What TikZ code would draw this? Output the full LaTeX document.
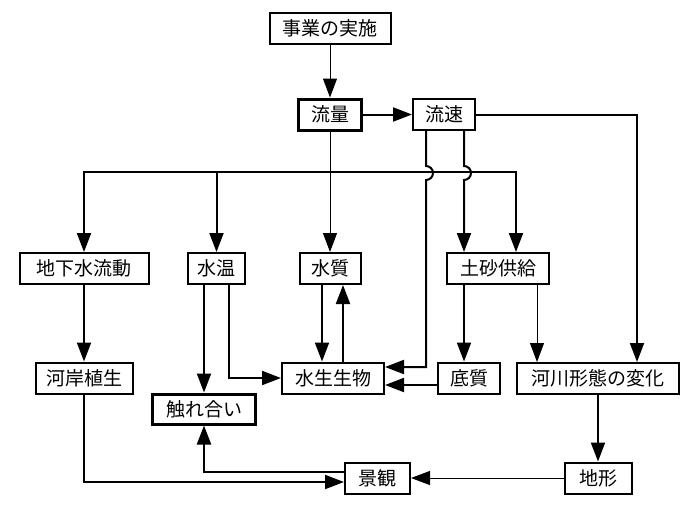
\documentclass[tikz,border=0pt]{standalone}
\usepackage{fontspec}
\setmainfont{Noto Sans CJK JP}
\usetikzlibrary{arrows.meta}

\begin{document}
\begin{tikzpicture}[
    x=1pt, y=-1pt,
    box/.style={draw, line width=2pt, minimum height=31pt, inner sep=2pt, font=\fontsize{19}{19}\selectfont},
    boldbox/.style={box, line width=3pt},
    arrow/.style={-{Triangle[length=19pt,width=14pt]}, line width=2pt},
    thinarrow/.style={arrow, line width=1pt}
]
\useasboundingbox (0,0) rectangle (696,514);

% Top
\node[box, minimum width=121pt] (jigyo) at (330,28.5) {事業の実施};
\node[boldbox, minimum width=63pt] (ryuryo) at (330,114.5) {流量};
\node[box, minimum width=62pt] (ryusoku) at (444,114.5) {流速};

% Row 1
\node[box, minimum width=129pt] (chikasui) at (84,268.5) {地下水流動};
\node[box, minimum width=57pt] (suion) at (216.5,268.5) {水温};
\node[box, minimum width=61pt] (suishitsu) at (330,268.5) {水質};
\node[box, minimum width=102pt] (dosha) at (498,268.5) {土砂供給};

% Row 2
\node[box, minimum width=97pt] (kagan) at (84,378) {河岸植生};
\node[box, minimum width=102pt] (seibutsu) at (333,378) {水生生物};
\node[box, minimum width=62pt] (teishitsu) at (469,378) {底質};
\node[box, minimum width=162pt] (kasen) at (598,378.5) {河川形態の変化};
\node[boldbox, minimum width=103pt, minimum height=30pt] (fureai) at (204,409) {触れ合い};

% Bottom
\node[box, minimum width=65pt] (keikan) at (377.5,478) {景観};
\node[box, minimum width=67pt] (chikei) at (598,478) {地形};

% Bus under 流量
\coordinate (bus) at (330,172);

% Edges
\draw[thinarrow] (jigyo) -- (ryuryo);
\draw[arrow] (ryuryo) -- (ryusoku);
\draw[thinarrow] (ryuryo) -- (suishitsu);
\draw[arrow] (bus) -| (chikasui);
\draw[arrow] (bus) -| (suion);
\draw[arrow] (bus) -| ([xshift=18pt]dosha.north);

% 流速 legs, hopping over the bus
\draw[arrow] ([xshift=-18pt]ryusoku.south) -- ++(0,35) arc[start angle=-90, end angle=90, radius=7] |- ([yshift=11pt]seibutsu.east);
\draw[arrow] ([xshift=20pt]ryusoku.south) -- ++(0,35) arc[start angle=-90, end angle=90, radius=7] -- ([xshift=-34pt]dosha.north);
\draw[arrow] (ryusoku.east) -| ([xshift=39pt]kasen.north);

\draw[arrow] (chikasui) -- (kagan);
\draw[arrow] ([xshift=-12.5pt]suion.south) -- (fureai);
\draw[arrow] ([xshift=12.5pt]suion.south) |- (seibutsu);
\draw[arrow] ([xshift=-8pt]suishitsu.south) -- ([xshift=-11pt]seibutsu.north);
\draw[arrow] ([xshift=10pt]seibutsu.north) -- ([xshift=13pt]suishitsu.south);
\draw[arrow] ([xshift=-34pt]dosha.south) -- ([xshift=-5pt]teishitsu.north);
\draw[thinarrow] ([xshift=39pt]dosha.south) -- ([xshift=-61pt]kasen.north);
\draw[arrow] ([yshift=-7pt]teishitsu.west) -- ([yshift=-7pt]seibutsu.east);

\draw[arrow] (kasen) -- (chikei);
\draw[thinarrow] (chikei) -- (keikan);
\draw[arrow] ([yshift=6pt]keikan.west) -| (fureai);
\draw[arrow] (kagan) |- ([yshift=-4pt]keikan.west);

\end{tikzpicture}
\end{document}
